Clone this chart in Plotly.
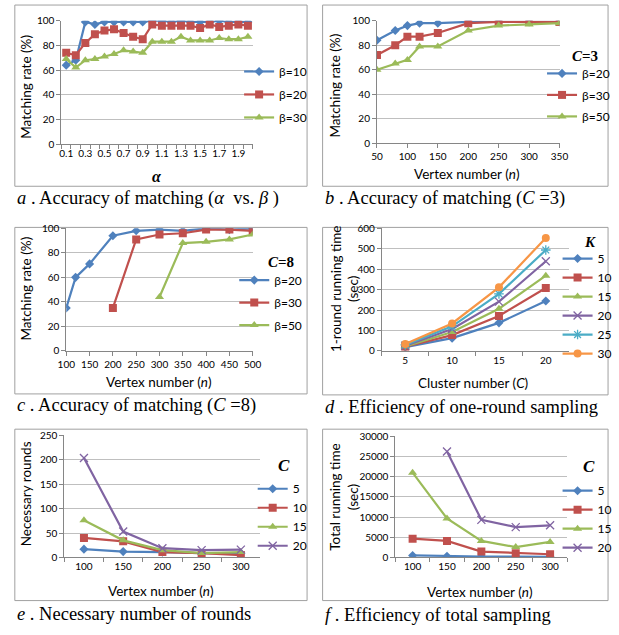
import plotly.graph_objects as go

W, H = 619, 635

# ---------------- data ----------------
alpha_labels = ["0.1","0.2","0.3","0.4","0.5","0.6","0.7","0.8","0.9","1.0",
                "1.1","1.2","1.3","1.4","1.5","1.6","1.7","1.8","1.9","2.0"]
alpha_ticktext = [l if i % 2 == 0 else "" for i, l in enumerate(alpha_labels)]
a_beta10 = [64,68,99,97,99,99,99,99,99,100,100,99,100,99,99,99,100,99,99,99]
a_beta20 = [74,72,82,89,92,93,90,87,85,97,96,96,96,96,94,97,95,96,97,96]
a_beta30 = [69,62,68,69,71,73,76,75,74,83,83,83,87,84,84,84,86,85,85,87]

b_n = [50,80,100,120,150,200,250,300,350]
b_beta20 = [84,92,96,98,98,99,99,99,99]
b_beta30 = [72,80,87,87,90,98,99,99,99]
b_beta50 = [60,65,68,79,79,92,96,97,98]

c_n = [100,120,150,200,250,300,350,400,450,500]
c_beta20 = [35,60,71,94,98,99,98,100,99,100]
c_beta30 = [None,None,None,35,91,95,96,99,99,98]
c_beta50 = [None,None,None,None,None,44,88,89,91,95]

d_C = ["5","10","15","20"]
d_K5 = [18,62,137,244]
d_K10 = [20,77,171,308]
d_K15 = [21,92,206,368]
d_K20 = [25,107,241,439]
d_K25 = [29,120,279,494]
d_K30 = [33,134,311,553]

e_n = ["100","150","200","250","300"]
e_C5 = [17,12,11,9,9]
e_C10 = [40,33,11,9,5]
e_C15 = [76,35,15,9,11]
e_C20 = [203,53,19,15,16]

f_n = ["100","150","200","250","300"]
f_C5 = [500,300,250,200,150]
f_C10 = [4650,4100,1450,1050,800]
f_C15 = [20950,9630,4100,2570,3850]
f_C20 = [None,26170,9300,7500,7950]

# ---------------- styles ----------------
BLUE, RED, GREEN, PURPLE, CYAN, ORANGE = "#4F81BD", "#C0504D", "#9BBB59", "#8064A2", "#4BACC6", "#F79646"
STY = {
    BLUE: dict(symbol="diamond", size=7),
    RED: dict(symbol="square", size=8),
    GREEN: dict(symbol="triangle-up", size=8),
    PURPLE: dict(symbol="x-thin-open", size=8),
    CYAN: dict(symbol="asterisk-open", size=8),
    ORANGE: dict(symbol="circle", size=8),
}
SANS = "Lato, Open Sans, sans-serif"
TICKFONT = dict(family=SANS, size=10, color="#000")
TITLEFONT = dict(family=SANS, size=13.5, color="#000")
SERIF = "Liberation Serif, Times New Roman, serif"
AXC = "#868686"
GRIDC = "#BFBFBF"

fig = go.Figure()

def px_x(x):
    return x / W

def px_y(y):
    return 1 - y / H

panels = {
    # name: (left, right, top, bottom) in pixels
    "a": (54, 251, 14, 140),
    "b": (379, 567, 14, 139),
    "c": (59, 251, 226, 351),
    "d": (384, 577, 226, 351),
    "e": (57, 259, 437, 562),
    "f": (398, 575, 438, 562),
}
idx = {"a": 1, "b": 2, "c": 3, "d": 4, "e": 5, "f": 6}

def add(panel, x, y, name, color, legend):
    i = idx[panel]
    st = STY[color]
    marker = dict(symbol=st["symbol"], size=st["size"], color=color)
    if "open" in st["symbol"]:
        marker["line"] = dict(color=color, width=1.3)
    fig.add_trace(go.Scatter(
        x=x, y=y, name=name, mode="lines+markers",
        line=dict(color=color, width=2.2), marker=marker,
        xaxis="x" if i == 1 else f"x{i}", yaxis="y" if i == 1 else f"y{i}",
        legend=legend, legendgroup=f"{panel}{name}", connectgaps=False,
    ))

# panel a
add("a", alpha_labels, a_beta10, "β=10", BLUE, "legend")
add("a", alpha_labels, a_beta20, "β=20", RED, "legend")
add("a", alpha_labels, a_beta30, "β=30", GREEN, "legend")
# panel b
add("b", b_n, b_beta20, "β=20", BLUE, "legend2")
add("b", b_n, b_beta30, "β=30", RED, "legend2")
add("b", b_n, b_beta50, "β=50", GREEN, "legend2")
# panel c
add("c", c_n, c_beta20, "β=20", BLUE, "legend3")
add("c", c_n, c_beta30, "β=30", RED, "legend3")
add("c", c_n, c_beta50, "β=50", GREEN, "legend3")
# panel d
for name, vals, col in [("5", d_K5, BLUE), ("10", d_K10, RED), ("15", d_K15, GREEN),
                        ("20", d_K20, PURPLE), ("25", d_K25, CYAN), ("30", d_K30, ORANGE)]:
    add("d", d_C, vals, name, col, "legend4")
# panel e
for name, vals, col in [("5", e_C5, BLUE), ("10", e_C10, RED), ("15", e_C15, GREEN), ("20", e_C20, PURPLE)]:
    add("e", e_n, vals, name, col, "legend5")
# panel f
for name, vals, col in [("5", f_C5, BLUE), ("10", f_C10, RED), ("15", f_C15, GREEN), ("20", f_C20, PURPLE)]:
    add("f", f_n, vals, name, col, "legend6")

layout = dict(
    width=W, height=H, margin=dict(l=0, r=0, t=0, b=0),
    paper_bgcolor="white", plot_bgcolor="white", showlegend=True,
)

yranges = {"a": (0, 100, 20), "b": (0, 100, 20), "c": (0, 100, 20),
           "d": (0, 600, 100), "e": (0, 250, 50), "f": (0, 30000, 5000)}

for p, (l, r, t, b) in panels.items():
    i = idx[p]
    xk = "xaxis" if i == 1 else f"xaxis{i}"
    yk = "yaxis" if i == 1 else f"yaxis{i}"
    xa = dict(domain=[px_x(l), px_x(r)], anchor="y" if i == 1 else f"y{i}",
              showline=True, linecolor=AXC, linewidth=1, showgrid=False, zeroline=False,
              ticks="outside", ticklen=4, tickcolor=AXC, tickfont=TICKFONT, fixedrange=True,
              tickangle=0)
    if p == "a":
        xa.update(type="category", tickson="boundaries", range=[-0.5, len(alpha_labels) - 0.5],
                  tickmode="array", tickvals=alpha_labels, ticktext=alpha_ticktext)
    elif p == "b":
        xa.update(type="linear", range=[50, 350], tickmode="array",
                  tickvals=[50,100,150,200,250,300,350])
    elif p == "c":
        xa.update(type="linear", range=[100, 500], tickmode="array",
                  tickvals=[100,150,200,250,300,350,400,450,500])
    elif p == "d":
        xa.update(type="category", tickson="boundaries", range=[-0.5, len(d_C) - 0.5])
    else:
        xa.update(type="category", tickson="boundaries", range=[-0.5, 4.5])
    lo, hi, dt = yranges[p]
    ya = dict(domain=[px_y(b), px_y(t)], anchor="x" if i == 1 else f"x{i}",
              range=[lo, hi], dtick=dt, tick0=0, showline=True, linecolor=AXC, linewidth=1,
              showgrid=True, gridcolor=GRIDC, gridwidth=1, zeroline=False, tickformat="d",
              ticks="outside", ticklen=4, tickcolor=AXC, tickfont=TICKFONT, fixedrange=True)
    layout[xk] = xa
    layout[yk] = ya

LEGFONT = dict(family=SANS, size=12, color="#000")
def leg(x, ytop, gap):
    return dict(x=px_x(x), y=px_y(ytop), xanchor="left", yanchor="top",
                font=LEGFONT, itemwidth=30, tracegroupgap=gap, bgcolor="rgba(0,0,0,0)",
                borderwidth=0, itemclick=False, itemdoubleclick=False)

layout["legend"] = leg(237, 51, 4)
layout["legend2"] = leg(549, 53, 2.5)
layout["legend3"] = leg(232, 264, 3.5)
layout["legend4"] = leg(565, 242, 0)
layout["legend5"] = leg(251, 477, 0)
layout["legend6"] = leg(565, 479, 0)

shapes = []
for (x0, x1, y0, y1) in [(6, 307, -2, 183), (323, 617, -2, 183),
                         (6, 307, 225, 395), (323, 617, 225, 396),
                         (6, 307, 431, 606), (323, 617, 431, 606)]:
    shapes.append(dict(type="rect", xref="paper", yref="paper",
                       x0=px_x(x0), x1=px_x(x1), y0=px_y(y1), y1=px_y(y0),
                       line=dict(color="#A0A0A0", width=1), fillcolor="rgba(0,0,0,0)", layer="below"))
layout["shapes"] = shapes

ann = []
def text(x, y, s, font, xanchor="center", textangle=0):
    ann.append(dict(x=px_x(x), y=px_y(y), xref="paper", yref="paper", text=s, showarrow=False,
                    xanchor=xanchor, yanchor="middle", font=font, textangle=textangle))

# axis titles
text(152, 173, "<b><i>α</i></b>", dict(family=SERIF, size=16, color="#000"))
text(472, 171, "Vertex number (<i>n</i>)", TITLEFONT)
text(155, 383, "Vertex number (<i>n</i>)", TITLEFONT)
text(478, 384, "Cluster number (<i>C</i>)", TITLEFONT)
text(157, 596, "Vertex number (<i>n</i>)", TITLEFONT)
text(485, 597, "Vertex number (<i>n</i>)", TITLEFONT)

text(18, 81, "Matching rate (%)", TITLEFONT, textangle=-90)
text(336, 80, "Matching rate (%)", TITLEFONT, textangle=-90)
text(18, 287, "Matching rate (%)", TITLEFONT, textangle=-90)
text(346, 287, "1-round running time<br>(sec)", TITLEFONT, textangle=-90)
text(17, 497, "Necessary rounds", TITLEFONT, textangle=-90)
text(345, 500, "Total running time<br>(sec)", TITLEFONT, textangle=-90)

# legend titles
LT = dict(family=SERIF, size=15, color="#000")
text(593, 50, "<b><i>C</i>=3</b>", LT)
text(280, 260, "<b><i>C</i>=8</b>", LT)
text(598, 240, "<b><i>K</i></b>", LT)
text(283, 468, "<b><i>C</i></b>", dict(family=SERIF, size=17, color="#000"))
text(597, 469, "<b><i>C</i></b>", dict(family=SERIF, size=17, color="#000"))

# captions
CF = dict(family=SERIF, size=18.5, color="#000")
text(6, 196, "<i>a</i> . Accuracy of matching (<i>α</i>  vs. <i>β</i> )", CF, xanchor="left")
text(323, 196, "<i>b</i> . Accuracy of matching (<i>C</i> =3)", CF, xanchor="left")
text(6, 407, "<i>c</i> . Accuracy of matching (<i>C</i> =8)", CF, xanchor="left")
text(323, 408, "<i>d</i> . Efficiency of one-round sampling", CF, xanchor="left")
text(6, 620, "<i>e</i> . Necessary number of rounds", CF, xanchor="left")
text(323, 621, "<i>f</i> . Efficiency of total sampling", CF, xanchor="left")

layout["annotations"] = ann
fig.update_layout(**layout)
fig.write_html("out.html", config={"displayModeBar": False},
               post_script="document.body.style.margin='0';document.body.style.overflow='hidden';")
